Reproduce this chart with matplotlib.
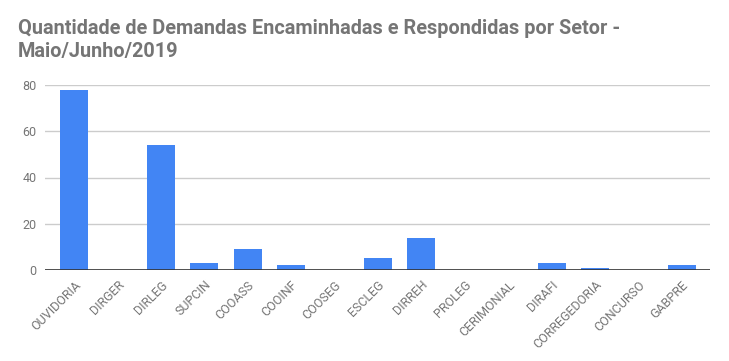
import matplotlib
matplotlib.use('Agg')
import matplotlib.pyplot as plt

setores = ['OUVIDORIA', 'DIRGER', 'DIRLEG', 'SUPCIN', 'COOASS', 'COOINF', 'COOSEG',
           'ESCLEG', 'DIRREH', 'PROLEG', 'CERIMONIAL', 'DIRAFI', 'CORREGEDORIA',
           'CONCURSO', 'GABPRE']
demandas = [78, 0, 54, 3, 9, 2, 0, 5, 14, 0, 0, 3, 1, 0, 2]
y_ticks = [0, 20, 40, 60, 80]

plt.rcParams['font.family'] = ['Roboto', 'DejaVu Sans']
texto = '#757575'

fig = plt.figure(figsize=(7.29, 3.61), dpi=100)
ax = fig.add_axes([45 / 729, 91 / 361, 665 / 729, 185 / 361])

x = list(range(len(setores)))
ax.bar(x, demandas, width=0.645, color='#4285F4', zorder=3)

ax.set_xlim(-0.67, 14.65)
ax.set_ylim(0, 80)
ax.set_yticks(y_ticks)
ax.set_yticklabels([str(v) for v in y_ticks], color=texto, fontsize=9)
ax.yaxis.grid(True, color='#cccccc', linewidth=1, zorder=0)
ax.axhline(0, color='#333333', linewidth=1.2, zorder=4)
ax.set_xticks(x)
ax.set_xticklabels(setores, rotation=45, ha='right', rotation_mode='anchor',
                   color=texto, fontsize=9)
ax.tick_params(axis='both', length=0, pad=6)
for s in ax.spines.values():
    s.set_visible(False)

fig.text(18 / 729, 1 - 19 / 361,
         'Quantidade de Demandas Encaminhadas e Respondidas por Setor -\nMaio/Junho/2019',
         color=texto, fontsize=14.3, fontweight='bold', ha='left', va='top',
         linespacing=1.25)

plt.savefig('out.png', dpi=100)
plt.close()
